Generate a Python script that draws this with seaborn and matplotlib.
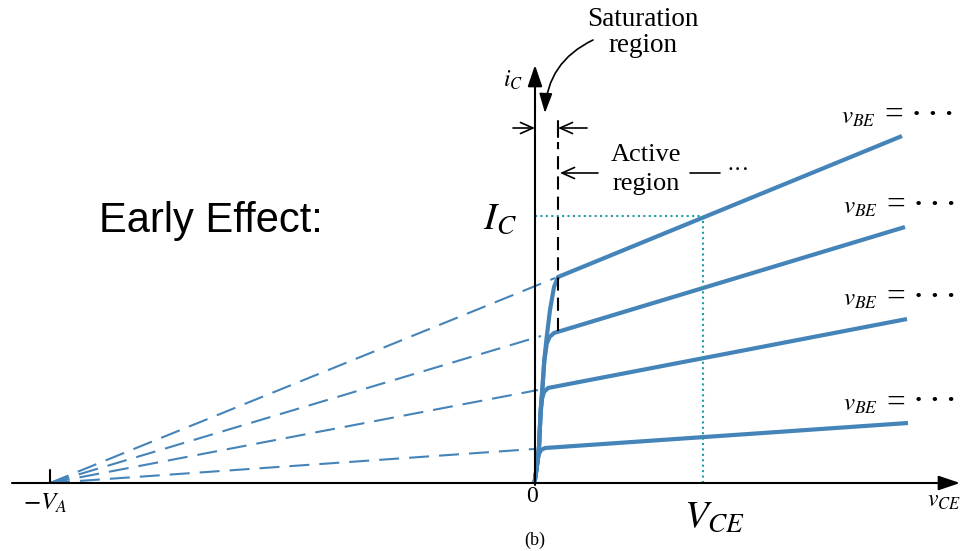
import numpy as np
import pandas as pd
import matplotlib
matplotlib.use("Agg")
import matplotlib.pyplot as plt
import seaborn as sns


# --- DATA (drawing units, origin where the two axes cross) ---
V_A = 485

vce_1 = [-0.5, 1.5, 2.7, 4.0, 5.7, 7.3, 9.3, 11.7, 15.0, 19.0, 23.0, 367]
ic_1 = [0, 14, 23, 36, 73, 93, 123, 146, 173, 196, 206, 347]
vce_2 = [-0.5, 1.5, 2.7, 4.0, 5.7, 7.3, 9.3, 11.7, 14.5, 19.0, 370]
ic_2 = [0, 14, 23, 36, 73, 93, 122, 139, 146, 150, 256]
vce_3 = [-0.5, 1.5, 2.7, 4.0, 5.5, 7.0, 9.0, 13.0, 372]
ic_3 = [0, 14, 23, 36, 68, 84, 91, 95, 164]
vce_4 = [-0.5, 1.5, 2.7, 4.0, 6.0, 10.0, 373]
ic_4 = [0, 14, 23, 29, 33, 35, 60]

# points where the dashed extrapolations reach the curves
vce_knee = [20, 6, 3, -1]
ic_knee = [205, 147, 93, 34]

# operating point marked with dotted lines
VCE_OP = 168
IC_OP = 267

# edge of saturation (black dashed boundary)
VCE_SAT = 23

BLUE = "#4584b9"
TEAL = "#1f9ea6"


def main():
    sns.set_theme(style="white")
    plt.rcParams["font.family"] = ["Liberation Serif", "DejaVu Serif"]
    plt.rcParams["mathtext.fontset"] = "stix"
    plt.rcParams["text.color"] = "black"

    curves = pd.concat([
        pd.DataFrame({"v_ce": v, "i_c": i, "curve": n})
        for n, (v, i) in enumerate([(vce_1, ic_1), (vce_2, ic_2), (vce_3, ic_3), (vce_4, ic_4)])
    ])
    dashed = pd.DataFrame({
        "v_ce": [-V_A] * len(vce_knee) + vce_knee,
        "i_c": [0] * len(ic_knee) + ic_knee,
        "curve": list(range(len(vce_knee))) * 2,
    })

    fig = plt.figure(figsize=(9.61, 5.51), dpi=100)
    ax = fig.add_axes([0, 0, 1, 1])
    ax.set_xlim(-535, 426)
    ax.set_ylim(-68, 483)
    ax.axis("off")

    # --- extrapolated lines to -V_A ---
    sns.lineplot(data=dashed, x="v_ce", y="i_c", units="curve", estimator=None,
                 sort=False, color=BLUE, lw=1.5, linestyle=(0, (9.6, 4.8)), ax=ax)

    # --- output characteristics ---
    sns.lineplot(data=curves, x="v_ce", y="i_c", units="curve", estimator=None,
                 sort=False, color=BLUE, lw=3, solid_joinstyle="round",
                 solid_capstyle="butt", ax=ax)

    # --- operating point ---
    ax.plot([0, VCE_OP], [IC_OP, IC_OP], color=TEAL, lw=1.5, linestyle=(0, (1, 1.6)))
    ax.plot([VCE_OP, VCE_OP], [0, IC_OP], color=TEAL, lw=1.5, linestyle=(0, (1, 1.6)))

    # --- axes with arrow heads ---
    axis_arrow = dict(arrowstyle="-|>,head_length=0.65,head_width=0.22", lw=1.5,
                      color="black", mutation_scale=20, shrinkA=0, shrinkB=0)
    ax.annotate("", xy=(425, 0), xytext=(-523, 0), arrowprops=axis_arrow)
    ax.annotate("", xy=(0, 418), xytext=(0, -2), arrowprops=axis_arrow)
    ax.plot([-V_A, -V_A], [0, 13], color="black", lw=1.5)

    # --- saturation / active boundary ---
    ax.plot([VCE_SAT, VCE_SAT], [152, 341], color="black", lw=1.5, linestyle=(0, (6.3, 3.4)))
    ax.plot([VCE_SAT, VCE_SAT], [346, 362], color="black", lw=1.5)
    small_arrow = dict(arrowstyle="->,head_length=0.45,head_width=0.2", lw=1.2,
                       color="black", mutation_scale=20, shrinkA=0, shrinkB=0)
    ax.annotate("", xy=(0, 355), xytext=(-22, 355), arrowprops=small_arrow)
    ax.annotate("", xy=(VCE_SAT, 355), xytext=(52, 355), arrowprops=small_arrow)
    ax.annotate("", xy=(VCE_SAT + 2, 310), xytext=(63, 310), arrowprops=small_arrow)
    ax.plot([155, 185], [310, 310], color="black", lw=1.2)
    ax.text(191, 313, "···", fontsize=17, ha="left", va="center")

    ax.text(108, 463, "Saturation", fontsize=19.5, ha="center", va="center")
    ax.text(108, 438, "region", fontsize=19.5, ha="center", va="center")
    ax.annotate("", xy=(10, 370), xytext=(58, 443),
                arrowprops=dict(arrowstyle="-|>,head_length=0.6,head_width=0.2", lw=1.2,
                                color="black", mutation_scale=20, shrinkA=0, shrinkB=0,
                                connectionstyle="arc3,rad=0.3"))
    ax.text(111, 328, "Active", fontsize=19, ha="center", va="center")
    ax.text(111, 299, "region", fontsize=19, ha="center", va="center")

    # --- labels ---
    ax.text(-22, 403, r"$i_C$", fontsize=17, ha="center", va="center")
    ax.text(-490, -20, r"$-V_A$", fontsize=18, ha="center", va="center")
    ax.text(-3, -14, "0", fontsize=17, ha="center", va="center")
    ax.text(392, -18, r"$v_{CE}$", fontsize=17, ha="left", va="center")
    ax.text(-35, 264, r"$I_C$", fontsize=28, ha="center", va="center")
    ax.text(180, -34, r"$V_{CE}$", fontsize=28, ha="center", va="center")
    ax.text(0, -57, "(b)", fontsize=13, ha="center", va="center")
    ax.text(-324, 262, "Early Effect:", fontsize=30, ha="center", va="center",
            family="Liberation Sans")

    # v_BE = ... tags at the right end of each curve
    for x, y in [(306, 365), (308, 275), (308, 183), (308, 78)]:
        ax.text(x, y, r"$v_{BE}$", fontsize=18, ha="left", va="center")
        ax.text(x + 53, y + 2, "=", fontsize=24, ha="center", va="center")
        ax.text(x + 71, y + 3, "· · ·", fontsize=20, ha="left", va="center",
                fontweight="bold")

    fig.savefig("out.png", dpi=100)


if __name__ == "__main__":
    main()
